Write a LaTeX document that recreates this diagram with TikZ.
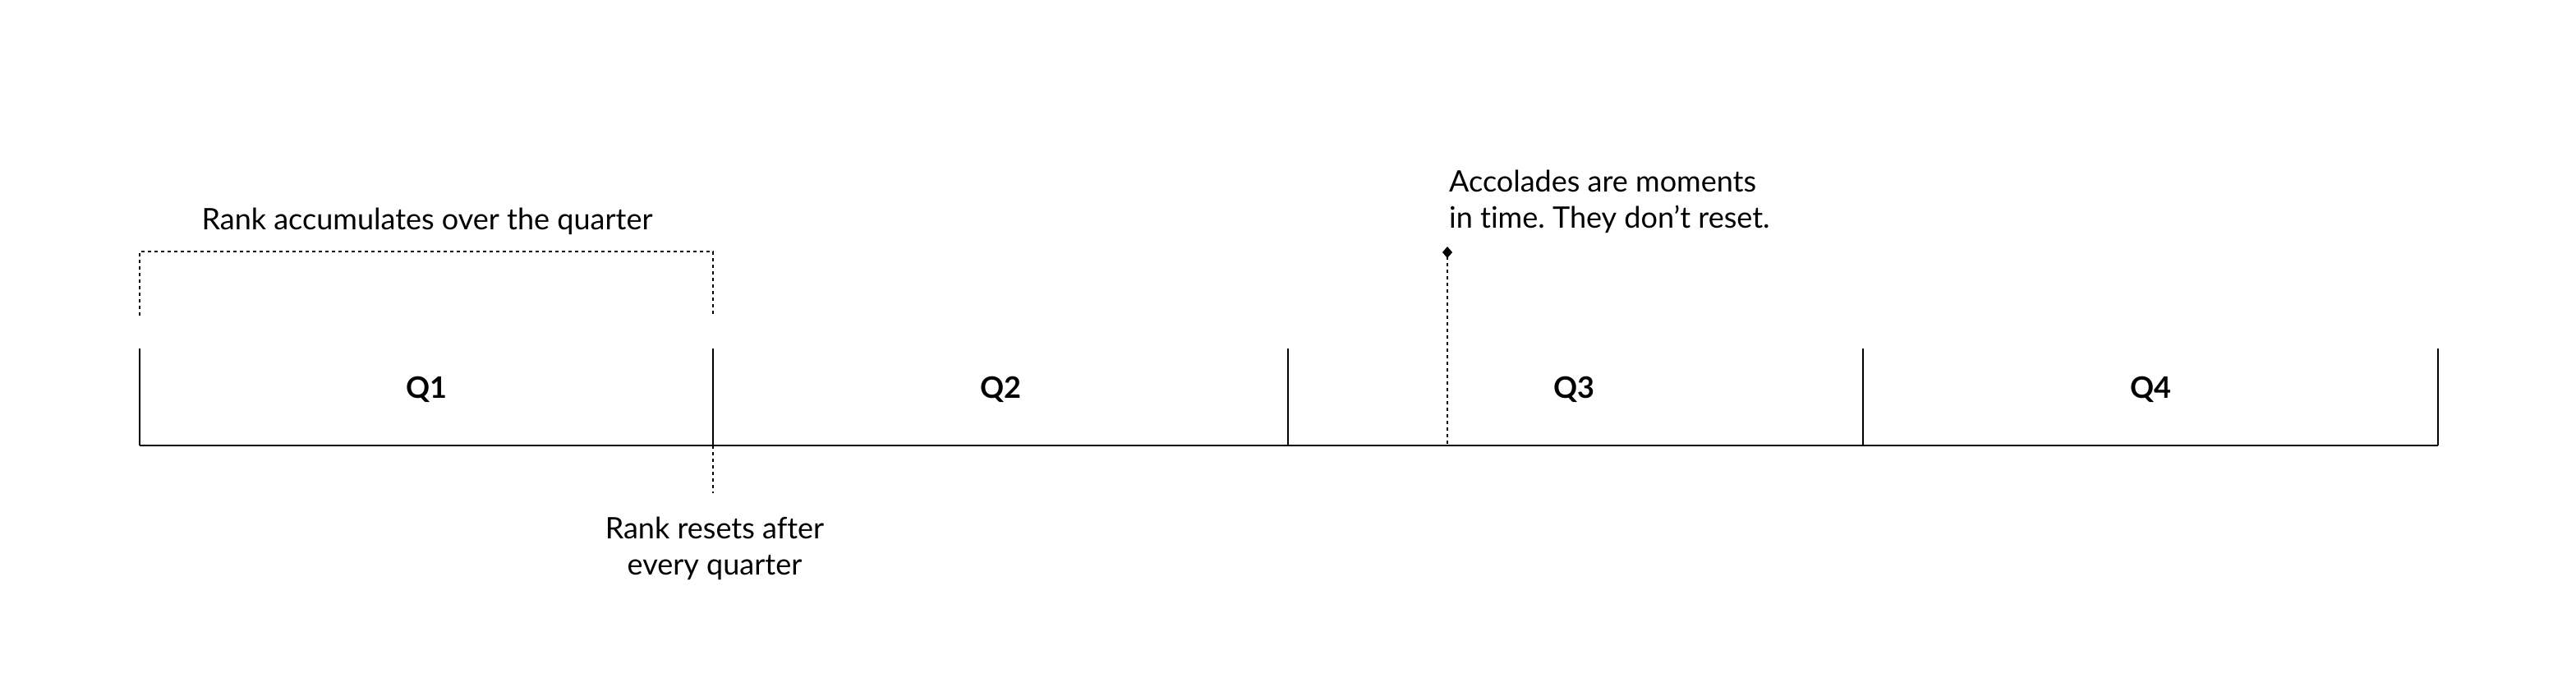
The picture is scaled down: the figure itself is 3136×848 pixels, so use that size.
\documentclass[tikz,border=0pt]{standalone}
\usepackage{fontspec}
\setmainfont[Ligatures={NoCommon}]{Lato}
\usetikzlibrary{arrows.meta}
\frenchspacing
\begin{document}
\begin{tikzpicture}[x=1pt,y=-1pt,
  solidline/.style={line width=2pt,black},
  dotline/.style={line width=2pt,black,dash pattern=on 4pt off 4pt},
  lbl/.style={inner sep=0pt,font=\fontsize{36}{44}\selectfont},
  qlbl/.style={inner sep=0pt,font=\fontsize{36}{44}\selectfont\bfseries}]
\path[use as bounding box,fill=white] (0,0) rectangle (3136,848);
% baseline and ticks
\coordinate (b0) at (170,542);
\coordinate (b1) at (868,542);
\coordinate (b2) at (1568,542);
\coordinate (b3) at (2268,542);
\coordinate (b4) at (2968,542);
\coordinate (t0) at (170,424);
\coordinate (t1) at (868,424);
\coordinate (t2) at (1568,424);
\coordinate (t3) at (2268,424);
\coordinate (t4) at (2968,424);
\draw[solidline] (b0) -- (b4);
\foreach \i in {0,...,4} \draw[solidline] (t\i) -- (b\i);
% quarter labels
\node[qlbl] (q1) at (519,474) {Q1};
\node[qlbl] (q2) at (1218,474) {Q2};
\node[qlbl] (q3) at (1916,474) {Q3};
\node[qlbl] (q4) at (2618,474) {Q4};
% accumulate bracket
\coordinate (k0) at (170,384);
\coordinate (k1) at (170,306);
\coordinate (k2) at (868,306);
\coordinate (k3) at (868,384);
\draw[dotline] (k0) -- (k1) -- (k2) -- (k3);
\node[lbl] (acc) at (520,269) {Rank accumulates over the quarter};
% reset marker
\coordinate (r1) at (868,600);
\draw[dotline] (b1) -- (r1);
\node[lbl,align=center] (reset) at (870,667) {Rank resets after\\every quarter};
% accolade marker
\coordinate (a0) at (1762,540);
\coordinate (a1) at (1762,300);
\draw[dotline,-{Diamond[length=14pt,width=12pt]}] (a0) -- (a1);
\node[lbl,align=left,anchor=west] (accol) at (1764,245) {Accolades are moments\\in time. They don’t reset.};
\end{tikzpicture}
\end{document}
